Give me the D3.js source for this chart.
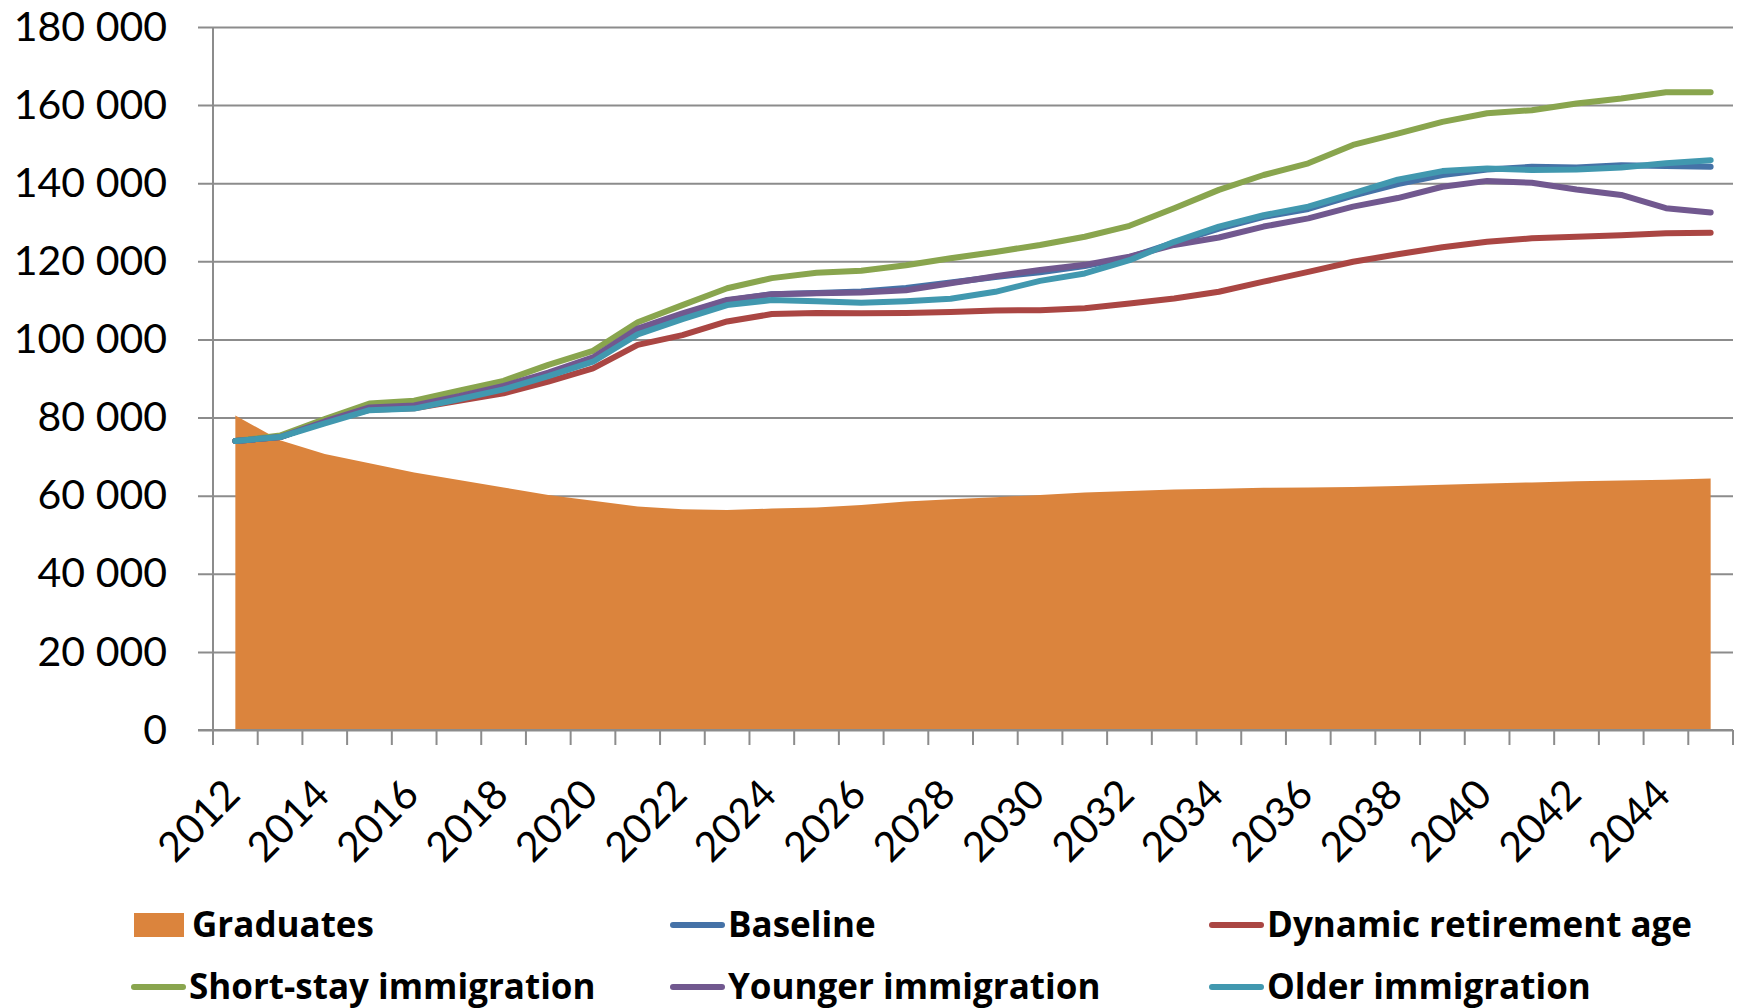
<!DOCTYPE html>
<html>
<head>
<meta charset="utf-8">
<script src="https://cdn.jsdelivr.net/npm/d3@7/dist/d3.min.js"></script>
<style>
  html, body { margin: 0; padding: 0; background: #fff; }
  svg { display: block; }
</style>
</head>
<body>
<svg id="chart" width="1741" height="1008"></svg>
<script>
// Years on the category axis (2012–2045)
const years = d3.range(2012, 2046);
const tickYears = years.filter(y => y % 2 === 0);
const yTicks = [0, 20000, 40000, 60000, 80000, 100000, 120000, 140000, 160000, 180000];

// Yearly number of graduates (area)
const graduates = [80500, 74200, 70700, 68300, 65900, 64000, 62100, 60200, 58700, 57200,
  56500, 56300, 56700, 57000, 57600, 58500, 59100, 59600, 60200, 60800,
  61200, 61600, 61800, 62000, 62100, 62200, 62500, 62800, 63100, 63400,
  63700, 63900, 64100, 64400];

// Labour demand scenarios (lines)
const baseline = [74000, 75000, 79000, 82300, 82900, 85200, 87800, 91200, 95000, 102600,
  106400, 110000, 111600, 111900, 112300, 113200, 114600, 116000, 117200, 118800,
  121000, 124800, 128400, 131400, 133400, 136800, 139800, 142100, 143500, 144200,
  144000, 144600, 144400, 144200];
const dynamicRetirement = [74000, 75000, 79000, 82000, 82400, 84300, 86200, 89200, 92600, 98600,
  101100, 104600, 106500, 106800, 106700, 106800, 107000, 107400, 107500, 108000,
  109200, 110500, 112200, 114800, 117300, 119900, 121800, 123600, 125000, 125900,
  126300, 126700, 127200, 127300];
const shortStay = [74000, 75400, 79600, 83600, 84300, 86900, 89400, 93500, 97100, 104400,
  108800, 113100, 115700, 117100, 117600, 119000, 120800, 122400, 124200, 126300,
  129100, 133600, 138300, 142100, 145100, 149800, 152700, 155700, 157900, 158700,
  160400, 161700, 163300, 163300];
const younger = [74000, 75000, 79000, 82600, 83100, 85500, 88100, 91500, 95400, 102800,
  106700, 110100, 111600, 111800, 112000, 112600, 114400, 116200, 117800, 119100,
  121200, 124200, 126100, 128900, 131000, 134000, 136200, 139100, 140600, 140100,
  138400, 137000, 133600, 132500];
const older = [74000, 75000, 78500, 81900, 82300, 84700, 87200, 90600, 94300, 101300,
  105200, 108800, 110100, 109800, 109400, 109800, 110400, 112200, 115000, 116900,
  120300, 125000, 128900, 131800, 134000, 137400, 140900, 143100, 143800, 143400,
  143500, 144000, 145100, 145900];

const lineSeries = [
  { name: "Baseline", values: baseline, color: "#4572A7" },
  { name: "Dynamic retirement age", values: dynamicRetirement, color: "#AA4643" },
  { name: "Short-stay immigration", values: shortStay, color: "#89A54E" },
  { name: "Younger immigration", values: younger, color: "#71588F" },
  { name: "Older immigration", values: older, color: "#4198AF" }
];
const areaColor = "#DB843D";
const gridColor = "#8C8C8C";
const font = "Lato, 'Open Sans', sans-serif";
const legendFont = "'Open Sans', Lato, sans-serif";

const svg = d3.select("#chart");
const plot = { left: 213, right: 1733, top: 27, bottom: 730 };

const x = d3.scaleBand().domain(years).range([plot.left, plot.right]).paddingInner(0).paddingOuter(0);
const cx = d => x(d) + x.bandwidth() / 2;
const y = d3.scaleLinear().domain([0, 180000]).range([plot.bottom, plot.top]);

// Horizontal gridlines with outward ticks
const gy = svg.append("g")
  .attr("transform", `translate(${plot.left},0)`)
  .call(d3.axisLeft(y).tickValues(yTicks).tickSize(15).tickPadding(31)
    .tickFormat(v => d3.format(",")(v).replace(/,/g, " ")));
gy.select(".domain").remove();
gy.selectAll(".tick line").attr("stroke", gridColor).attr("stroke-width", 2)
  .attr("x1", -15).attr("x2", plot.right - plot.left);
gy.selectAll(".tick text").attr("font-family", font).attr("font-size", 41).attr("fill", "#000");

// Graduates area
const area = d3.area()
  .x((d, i) => cx(years[i]))
  .y0(y(0))
  .y1(d => y(d));
svg.append("path").datum(graduates).attr("d", area).attr("fill", areaColor);

// Scenario lines
const line = d3.line().x((d, i) => cx(years[i])).y(d => y(d));
svg.append("g").selectAll("path").data(lineSeries).join("path")
  .attr("d", s => line(s.values))
  .attr("fill", "none")
  .attr("stroke", s => s.color)
  .attr("stroke-width", 6)
  .attr("stroke-linejoin", "round")
  .attr("stroke-linecap", "round");

// Vertical axis line
svg.append("line")
  .attr("x1", plot.left).attr("x2", plot.left)
  .attr("y1", plot.top).attr("y2", plot.bottom)
  .attr("stroke", gridColor).attr("stroke-width", 2);

// Category axis: ticks between categories
const boundaries = years.map(yr => x(yr)).concat([plot.right]);
const gx = svg.append("g");
gx.append("line")
  .attr("x1", plot.left - 15).attr("x2", plot.right)
  .attr("y1", plot.bottom).attr("y2", plot.bottom)
  .attr("stroke", gridColor).attr("stroke-width", 2);
gx.selectAll("line.tk").data(boundaries).join("line").attr("class", "tk")
  .attr("x1", d => d).attr("x2", d => d)
  .attr("y1", plot.bottom).attr("y2", plot.bottom + 15)
  .attr("stroke", gridColor).attr("stroke-width", 2);
gx.selectAll("text").data(tickYears).join("text")
  .attr("transform", d => `translate(${cx(d) + 7},${plot.bottom + 67}) rotate(-45)`)
  .attr("text-anchor", "end")
  .attr("font-family", font).attr("font-size", 41).attr("fill", "#000")
  .text(d => d);

// Legend
const legendItems = [
  { name: "Graduates", color: areaColor, type: "rect" },
  ...lineSeries.map(s => ({ name: s.name, color: s.color, type: "line" }))
];
const colX = [131, 670, 1209];
const rowY = [925, 987];
const lg = svg.append("g").selectAll("g").data(legendItems).join("g")
  .attr("transform", (d, i) => `translate(${colX[i % 3]},${rowY[Math.floor(i / 3)]})`);
lg.filter(d => d.type === "rect").append("rect")
  .attr("x", 3).attr("y", -12).attr("width", 50).attr("height", 24).attr("fill", d => d.color);
lg.filter(d => d.type === "line").append("line")
  .attr("x1", 3).attr("x2", 52).attr("y1", 0).attr("y2", 0)
  .attr("stroke", d => d.color).attr("stroke-width", 6).attr("stroke-linecap", "round");
lg.append("text")
  .attr("x", d => d.type === "rect" ? 61 : 58)
  .attr("y", 12)
  .attr("font-family", legendFont).attr("font-weight", "bold").attr("font-size", 35).attr("fill", "#000")
  .text(d => d.name);
</script>
</body>
</html>
